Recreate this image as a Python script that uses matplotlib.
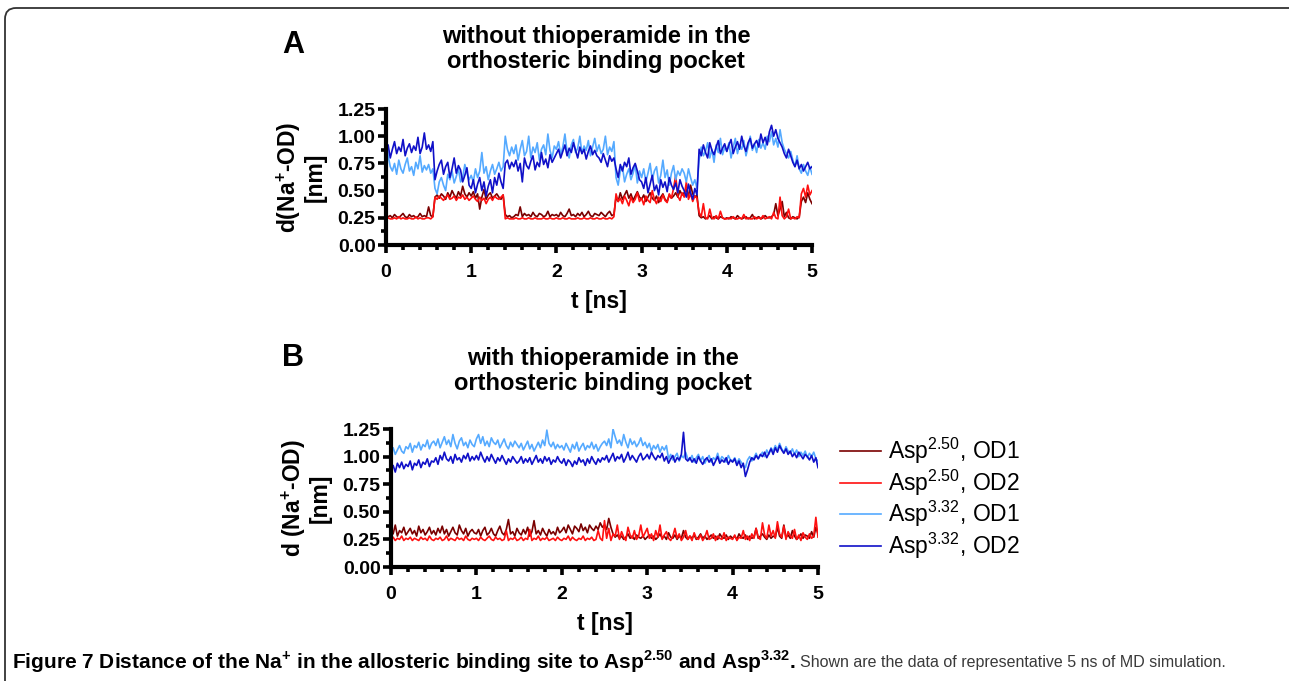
import numpy as np
import matplotlib
matplotlib.use("Agg")
import matplotlib.pyplot as plt
from matplotlib.patches import FancyBboxPatch
from matplotlib.transforms import IdentityTransform
from matplotlib.ticker import MultipleLocator, FormatStrFormatter

plt.rcParams['font.family'] = ['Liberation Sans', 'DejaVu Sans']
plt.rcParams['mathtext.fontset'] = 'custom'
plt.rcParams['mathtext.rm'] = 'Liberation Sans:bold'
plt.rcParams['mathtext.bf'] = 'Liberation Sans:bold'
plt.rcParams['mathtext.sf'] = 'Liberation Sans'

# time axis: 0 .. 5 ns, one value every 0.025 ns
t = np.linspace(0, 5, 201)

# distances in units of 0.01 nm
# panel A - without thioperamide
a_asp250_od1 = [25,26,27,25,28,26,25,27,29,26,25,28,26,27,25,26,29,26,27,26,
                35,27,26,44,46,43,47,45,42,48,44,50,46,43,49,45,54,47,44,48,
                45,49,43,47,33,44,51,42,46,48,43,45,47,44,42,46,28,26,27,25,
                26,28,27,35,26,29,27,28,26,30,27,26,29,28,26,27,31,26,28,27,
                28,26,30,27,26,29,33,27,28,26,29,27,30,26,28,31,27,26,29,28,
                27,30,28,26,29,31,27,28,44,40,48,42,46,50,43,47,41,45,49,44,
                42,46,40,44,48,43,41,45,39,44,47,42,40,46,43,45,48,44,50,46,
                48,51,45,55,47,44,46,27,25,26,24,25,27,24,26,25,24,26,25,24,
                25,24,26,25,24,27,25,24,25,26,24,25,28,24,25,26,24,25,27,25,
                25,26,28,38,27,33,40,26,30,25,24,26,25,24,26,40,44,39,48,42,
                38]
a_asp250_od2 = [24,25,24,24,25,24,26,24,25,24,24,25,24,24,26,24,25,24,24,25,
                25,24,26,44,42,45,43,41,44,46,42,43,45,41,44,43,46,42,44,41,
                43,45,42,40,44,41,43,38,42,44,41,45,43,42,44,46,24,25,24,24,
                24,25,24,24,25,24,24,25,24,24,25,24,24,24,25,24,24,25,24,24,
                25,24,24,25,24,24,25,24,24,24,25,24,24,25,24,24,25,24,24,25,
                24,24,25,24,24,25,24,26,47,40,43,38,45,41,36,44,39,42,48,40,
                43,37,45,41,39,50,42,38,44,40,46,41,39,47,43,52,64,45,41,48,
                44,58,42,47,40,45,43,30,26,38,25,24,33,25,24,27,24,31,25,24,
                24,25,24,26,24,24,25,24,28,24,25,24,24,26,24,25,24,27,24,25,
                26,24,30,25,24,44,27,24,26,33,24,25,24,26,25,47,52,44,55,46,
                50]
a_asp332_od1 = [100,82,72,68,75,65,78,70,66,74,80,68,72,64,76,70,82,67,73,69,
                74,66,70,52,47,58,62,55,50,65,60,68,57,63,70,58,62,74,66,60,
                64,58,70,62,68,85,66,72,60,68,74,65,70,76,68,72,100,88,82,90,
                84,92,78,88,96,82,86,100,80,90,85,94,78,88,92,83,102,87,80,91,
                88,95,83,90,102,86,80,92,97,85,89,100,84,91,87,96,82,90,98,86,
                92,84,88,100,83,90,86,95,62,55,68,72,58,65,70,60,66,74,57,68,
                62,70,58,66,75,60,68,72,57,64,78,62,69,55,66,73,60,68,64,70,
                66,58,70,62,55,60,52,78,90,82,86,94,80,88,76,92,85,98,83,90,
                86,94,80,90,98,84,92,88,96,82,90,100,87,93,85,97,89,94,88,100,
                95,104,92,98,90,106,94,88,84,80,86,78,72,82,70,66,74,68,64,72,
                65]
a_asp332_od2 = [85,92,80,88,95,84,90,86,97,82,89,93,85,91,87,99,84,90,103,88,
                92,86,95,60,68,74,78,65,72,76,62,70,80,66,73,69,58,64,71,55,
                52,60,48,56,62,50,58,45,54,60,48,62,55,66,58,52,75,78,70,76,
                72,78,68,75,58,80,73,70,77,82,69,76,72,85,74,79,71,83,76,80,
                84,88,80,86,92,82,89,85,94,87,80,90,84,88,79,86,91,83,87,82,
                80,76,84,78,72,82,77,80,70,62,74,68,76,72,80,65,71,75,68,60,
                58,52,62,48,56,64,50,55,46,60,53,58,49,62,55,51,57,48,60,54,
                50,44,56,48,42,52,46,88,82,92,85,80,94,87,83,90,96,84,89,93,
                86,92,97,84,90,95,88,100,91,86,94,98,89,93,96,90,102,94,99,92,
                104,110,100,106,98,94,90,84,80,88,82,76,72,78,70,74,68,72,76,70,
                72]

# panel B - with thioperamide
b_asp250_od1 = [34,30,38,28,33,31,36,29,32,35,30,33,28,37,31,34,29,32,36,30,
                33,29,35,31,37,30,34,28,32,36,31,29,38,33,30,35,28,32,34,31,
                30,34,28,33,36,29,31,35,30,28,33,37,31,29,34,43,30,32,28,35,
                31,29,34,30,36,28,32,42,30,33,29,35,31,28,34,30,32,29,36,31,
                33,36,31,38,34,30,37,35,32,39,33,36,31,38,35,33,37,34,40,36,
                38,34,44,36,30,27,29,26,28,25,27,30,26,28,25,29,27,26,28,25,
                27,29,26,28,25,27,30,26,28,25,31,27,26,29,25,28,26,33,27,25,
                28,26,29,25,27,30,26,28,25,27,29,26,28,25,30,27,26,29,25,28,
                26,28,25,30,27,26,29,25,28,26,27,35,26,28,30,27,25,29,26,28,
                27,36,28,26,38,27,29,26,33,28,25,27,30,26,29,28,26,32,27,36,
                30]
b_asp250_od2 = [25,27,24,26,25,28,24,26,25,27,24,26,25,24,27,25,26,24,28,25,
                24,26,25,27,24,25,28,24,26,25,24,27,25,26,24,28,25,24,26,25,
                26,24,27,25,24,26,28,25,24,27,25,26,24,25,33,24,26,25,27,24,
                25,27,24,26,25,34,24,26,25,28,24,26,25,27,24,25,26,24,27,25,
                24,26,25,28,24,27,25,24,26,25,28,24,26,25,27,24,25,33,26,24,
                42,26,35,24,30,28,38,25,32,27,24,36,29,26,33,25,28,38,27,31,
                35,26,30,24,33,27,38,25,29,32,26,24,28,35,26,30,24,27,33,25,
                28,24,31,26,25,29,24,27,33,25,26,30,24,28,26,25,31,24,27,26,
                25,29,24,27,26,33,25,28,24,30,26,35,27,25,40,29,26,38,28,33,
                26,41,30,27,37,25,32,28,26,34,25,29,24,31,27,25,30,26,28,45,
                27]
b_asp332_od1 = [104,108,102,106,110,105,103,109,107,112,104,110,108,113,106,111,109,115,107,112,
                114,110,116,108,113,118,111,115,109,120,112,107,114,117,110,113,108,115,111,109,
                116,120,112,118,110,114,109,117,113,111,115,108,112,116,110,107,113,109,114,111,
                108,112,106,110,114,107,111,105,109,113,108,115,110,124,112,109,113,107,111,108,
                110,106,112,108,104,111,107,113,105,109,112,106,110,108,113,107,111,105,109,112,
                114,110,116,108,125,118,112,115,110,120,113,108,116,111,114,109,112,117,110,113,
                108,112,105,110,107,111,104,109,106,110,98,102,97,100,103,96,101,99,104,98,
                97,101,95,99,102,96,100,94,98,101,95,99,97,103,96,100,98,95,101,97,
                96,99,94,98,95,92,90,97,100,96,99,103,98,101,104,100,106,102,108,105,
                110,106,112,107,104,109,105,103,107,102,106,100,104,101,105,99,103,100,104,98,
                96]
b_asp332_od2 = [88,92,86,94,90,95,89,93,91,96,88,94,92,97,90,95,93,98,91,96,
                95,99,93,101,97,104,98,96,100,94,102,97,99,95,101,98,103,96,100,97,
                101,97,104,99,95,100,96,102,98,94,99,96,101,97,93,98,95,100,97,94,
                96,100,94,98,95,99,93,97,101,95,98,94,100,96,99,93,97,95,100,96,
                94,98,92,97,95,91,96,93,99,95,97,92,98,94,100,96,93,98,95,99,
                97,101,95,99,103,96,100,98,102,95,99,104,97,101,98,95,100,103,97,99,
                102,98,104,100,97,101,99,103,96,100,94,98,101,95,99,97,102,122,98,96,
                99,95,98,94,100,96,93,97,99,95,98,92,96,100,94,97,95,99,93,97,
                95,98,92,96,90,94,82,88,95,99,97,101,98,102,100,104,99,103,107,102,
                108,104,110,106,103,107,102,105,100,103,99,104,101,98,102,100,97,101,95,99,
                90]

labels = [r'Asp$^{\mathsf{2.50}}$, OD1', r'Asp$^{\mathsf{2.50}}$, OD2',
          r'Asp$^{\mathsf{3.32}}$, OD1', r'Asp$^{\mathsf{3.32}}$, OD2']
colors = ['#7a0000', '#ff1010', '#55aaff', '#1010c8']

fig = plt.figure(figsize=(12.89, 6.81), dpi=100)

# rounded frame around the figure
frame = FancyBboxPatch((5, -30), 1300, 681 - 8 + 30,
                       boxstyle="round,pad=0,rounding_size=11",
                       transform=IdentityTransform(), fill=False,
                       edgecolor='#333333', linewidth=1.3)
fig.add_artist(frame)


def style_axes(ax, ylab):
    ax.set_xlim(0, 5)
    ax.set_ylim(0, 1.25)
    for s in ['top', 'right']:
        ax.spines[s].set_visible(False)
    for s in ['left', 'bottom']:
        ax.spines[s].set_linewidth(3.0)
    ax.xaxis.set_major_locator(MultipleLocator(1))
    ax.xaxis.set_minor_locator(MultipleLocator(0.2))
    ax.yaxis.set_major_locator(MultipleLocator(0.25))
    ax.yaxis.set_minor_locator(MultipleLocator(0.125))
    ax.yaxis.set_major_formatter(FormatStrFormatter('%.2f'))
    ax.tick_params(which='major', length=5.5, width=2.6, labelsize=14, pad=2)
    ax.tick_params(axis='x', which='major', pad=8.5)
    ax.tick_params(which='minor', length=3.5, width=2.6)
    for lab in ax.get_xticklabels() + ax.get_yticklabels():
        lab.set_fontweight('bold')
    ax.set_xlabel('t [ns]', fontsize=16.5, fontweight='bold', labelpad=6)
    ax.set_ylabel(ylab, fontsize=16.5, fontweight='bold', labelpad=8, linespacing=1.0)


axA = fig.add_axes([386 / 1289, 1 - 245 / 681, 426 / 1289, 136 / 681])
series_a = [a_asp250_od1, a_asp250_od2, a_asp332_od1, a_asp332_od2]
for vals, c in zip(series_a, colors):
    axA.plot(t, np.array(vals) / 100, color=c, lw=1.2)
style_axes(axA, 'd(Na$^{\\mathbf{+}}$-OD)\n[nm]')

axB = fig.add_axes([391 / 1289, 1 - 567 / 681, 427 / 1289, 138 / 681])
series_b = [b_asp250_od1, b_asp250_od2, b_asp332_od1, b_asp332_od2]
handles = []
for vals, c, lab in zip(series_b, colors, labels):
    h, = axB.plot(t, np.array(vals) / 100, color=c, lw=1.2, label=lab)
    handles.append(h)
style_axes(axB, 'd (Na$^{\\mathbf{+}}$-OD)\n[nm]')

fig.legend(handles=handles, loc='upper left', bbox_to_anchor=(840 / 1289, 1 - 436 / 681),
           frameon=False, fontsize=16.5, handlelength=1.8, handletextpad=0.3,
           labelspacing=0.06, borderaxespad=0, borderpad=0)

# panel letters and titles
fig.text(293 / 1289, 1 - 45 / 681, 'A', fontsize=22, fontweight='bold', ha='center', va='center')
fig.text(596 / 1289, 1 - 49 / 681, 'without thioperamide in the\northosteric binding pocket',
         fontsize=17, fontweight='bold', ha='center', va='center', linespacing=1.15)
fig.text(293 / 1289, 1 - 358 / 681, 'B', fontsize=22, fontweight='bold', ha='center', va='center')
fig.text(603 / 1289, 1 - 371 / 681, 'with thioperamide in the\northosteric binding pocket',
         fontsize=17, fontweight='bold', ha='center', va='center', linespacing=1.15)

# caption: bold lead-in followed by plain sentence, sized to the reference widths
cap_bold = fig.text(12 / 1289, 1 - 662 / 681,
                    r'Figure 7 Distance of the Na$^{\mathbf{+}}$ in the allosteric binding site to '
                    r'Asp$^{\mathbf{2.50}}$ and Asp$^{\mathbf{3.32}}$.',
                    fontsize=13, fontweight='bold', va='center', ha='left')
cap_plain = fig.text(800 / 1289, 1 - 662 / 681,
                     'Shown are the data of representative 5 ns of MD simulation.',
                     fontsize=12, color='#3a3a3a', va='center', ha='left')
fig.canvas.draw()
r = fig.canvas.get_renderer()
w = cap_bold.get_window_extent(r).width
cap_bold.set_fontsize(13 * 780 / w)
w = cap_plain.get_window_extent(r).width
cap_plain.set_fontsize(12 * 426 / w)

fig.savefig('out.png', dpi=100)
